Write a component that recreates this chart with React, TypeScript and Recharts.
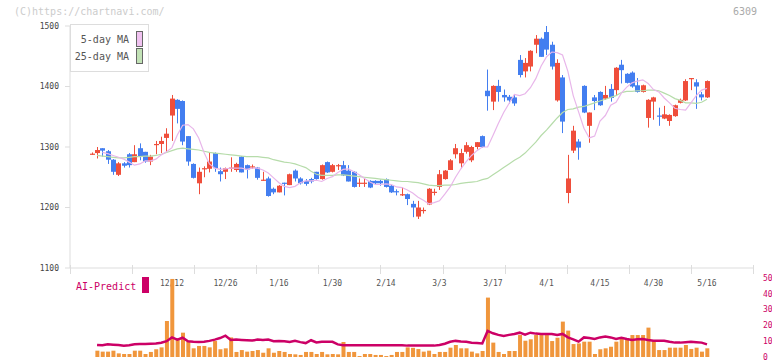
import React from "react";
import { ComposedChart, Bar, Line, XAxis, YAxis } from "recharts";

// trading days shown (index = x position)
const dates = [
  "11/21", "11/22", "11/25", "11/26", "11/27", "11/28", "11/29",
  "12/2", "12/3", "12/4", "12/5", "12/6", "12/9", "12/10", "12/11",
  "12/12", "12/13", "12/16", "12/17", "12/18", "12/19", "12/20", "12/23", "12/24", "12/25", "12/26", "12/27", "12/30",
  "1/6", "1/7", "1/8", "1/9", "1/10", "1/14", "1/15", "1/16", "1/17", "1/20", "1/21", "1/22", "1/23", "1/24", "1/27", "1/28", "1/29", "1/30", "1/31",
  "2/3", "2/4", "2/5", "2/6", "2/7", "2/10", "2/12", "2/13", "2/14", "2/17", "2/18", "2/19", "2/20", "2/21", "2/25", "2/26", "2/27", "2/28",
  "3/3", "3/4", "3/5", "3/6", "3/7", "3/10", "3/11", "3/12", "3/13", "3/14", "3/17", "3/18", "3/19", "3/21", "3/24", "3/25", "3/26", "3/27", "3/28", "3/31",
  "4/1", "4/2", "4/3", "4/4", "4/7", "4/8", "4/9", "4/10", "4/11", "4/14", "4/15", "4/16", "4/17", "4/18", "4/21", "4/22", "4/23", "4/24", "4/25", "4/28", "4/30",
  "5/1", "5/2", "5/7", "5/8", "5/9", "5/12", "5/13", "5/14", "5/15", "5/16",
];

const opens = [
  1288, 1290, 1298, 1293, 1279, 1254, 1273, 1288, 1275, 1298, 1292, 1276, 1304, 1305, 1315,
  1352, 1378, 1376, 1318, 1272, 1240, 1263, 1264, 1290, 1260, 1259, 1265, 1262, 1284, 1270,
  1267, 1266, 1245, 1248, 1231, 1225, 1241, 1237, 1261, 1248, 1244, 1247, 1259, 1247, 1275,
  1259, 1269, 1270, 1261, 1259, 1240, 1240, 1244, 1244, 1244, 1247, 1236, 1227, 1220, 1222,
  1206, 1185, 1195, 1205, 1225, 1234, 1247, 1262, 1288, 1273, 1292, 1278, 1300, 1318, 1393,
  1375, 1401, 1386, 1383, 1382, 1444, 1425, 1433, 1469, 1479, 1490, 1469, 1377, 1415, 1224,
  1294, 1309, 1401, 1335, 1382, 1391, 1380, 1396, 1394, 1436, 1421, 1423, 1402, 1391, 1348,
  1375, 1352, 1347, 1343, 1351, 1373, 1377, 1413, 1407, 1387, 1382,
];
const highs = [
  1291, 1300, 1298, 1295, 1280, 1275, 1275, 1290, 1303, 1306, 1292, 1287, 1310, 1317, 1331,
  1386, 1379, 1377, 1318, 1273, 1266, 1268, 1290, 1291, 1266, 1266, 1283, 1274, 1285, 1271,
  1271, 1267, 1259, 1251, 1233, 1237, 1241, 1256, 1263, 1250, 1247, 1249, 1259, 1271, 1276,
  1272, 1272, 1277, 1270, 1260, 1248, 1248, 1245, 1245, 1246, 1248, 1237, 1230, 1233, 1223,
  1211, 1211, 1200, 1232, 1231, 1262, 1262, 1280, 1305, 1297, 1308, 1302, 1308, 1319, 1428,
  1402, 1411, 1395, 1386, 1387, 1452, 1447, 1460, 1485, 1481, 1503, 1474, 1445, 1419, 1287,
  1335, 1313, 1402, 1357, 1386, 1392, 1401, 1404, 1432, 1444, 1422, 1425, 1414, 1403, 1379,
  1383, 1365, 1368, 1354, 1370, 1380, 1412, 1414, 1412, 1391, 1410,
];
const lows = [
  1287, 1281, 1284, 1272, 1254, 1252, 1266, 1266, 1275, 1278, 1274, 1270, 1288, 1290, 1292,
  1310, 1339, 1303, 1269, 1248, 1222, 1250, 1258, 1259, 1243, 1247, 1259, 1259, 1258, 1248,
  1264, 1246, 1244, 1218, 1222, 1225, 1220, 1237, 1243, 1238, 1236, 1240, 1246, 1246, 1257,
  1258, 1262, 1252, 1243, 1233, 1234, 1234, 1232, 1238, 1236, 1233, 1224, 1220, 1219, 1204,
  1184, 1181, 1190, 1204, 1220, 1229, 1246, 1262, 1281, 1265, 1289, 1275, 1296, 1299, 1360,
  1361, 1375, 1375, 1372, 1368, 1415, 1415, 1425, 1455, 1449, 1452, 1428, 1375, 1323, 1207,
  1290, 1279, 1356, 1307, 1361, 1368, 1378, 1375, 1386, 1405, 1405, 1398, 1390, 1390, 1332,
  1345, 1335, 1346, 1335, 1350, 1372, 1376, 1394, 1363, 1377, 1381,
];
const closes = [
  1289, 1295, 1294, 1279, 1259, 1273, 1269, 1270, 1288, 1284, 1276, 1284, 1305, 1310, 1322,
  1380, 1363, 1309, 1276, 1249, 1259, 1265, 1276, 1265, 1255, 1265, 1266, 1272, 1258, 1263,
  1268, 1249, 1246, 1219, 1225, 1236, 1239, 1255, 1248, 1240, 1239, 1243, 1247, 1270, 1258,
  1270, 1270, 1253, 1243, 1234, 1241, 1241, 1233, 1240, 1240, 1234, 1225, 1226, 1222, 1214,
  1200, 1200, 1196, 1231, 1226, 1255, 1261, 1278, 1298, 1290, 1303, 1300, 1308, 1300, 1384,
  1401, 1391, 1382, 1377, 1372, 1419, 1439, 1459, 1479, 1449, 1461, 1433, 1439, 1342, 1248,
  1327, 1299, 1357, 1357, 1376, 1369, 1386, 1381, 1431, 1427, 1406, 1400, 1391, 1402, 1378,
  1382, 1351, 1354, 1353, 1369, 1378, 1409, 1414, 1400, 1382, 1409,
];

const ma5 = [
  null, null, 1291, 1289, 1286, 1283, 1280, 1275, 1270, 1272, 1277, 1277, 1280, 1287, 1292,
  1299, 1320, 1336, 1337, 1330, 1315, 1291, 1272, 1265, 1263, 1264, 1265, 1265, 1265, 1263,
  1265, 1265, 1262, 1257, 1249, 1241, 1235, 1233, 1235, 1241, 1244, 1244, 1245, 1243, 1248,
  1251, 1258, 1263, 1264, 1259, 1254, 1248, 1242, 1238, 1238, 1239, 1238, 1234, 1233, 1229,
  1224, 1217, 1212, 1206, 1208, 1211, 1222, 1234, 1250, 1264, 1276, 1286, 1294, 1300, 1300,
  1319, 1339, 1357, 1372, 1387, 1385, 1388, 1398, 1413, 1434, 1449, 1457, 1456, 1452, 1425,
  1385, 1358, 1331, 1315, 1318, 1343, 1352, 1369, 1374, 1389, 1399, 1406, 1409, 1411, 1405,
  1395, 1391, 1381, 1373, 1364, 1362, 1361, 1373, 1385, 1394, 1397,
];
const ma25 = [
  null, 1286, 1285, 1284, 1283, 1282, 1282, 1283, 1284, 1284, 1285, 1285, 1286, 1288, 1291,
  1294, 1297, 1298, 1297, 1296, 1295, 1293, 1291, 1290, 1289, 1288, 1287, 1286, 1285, 1284,
  1284, 1284, 1283, 1282, 1279, 1277, 1275, 1274, 1272, 1269, 1266, 1260, 1255, 1253, 1253,
  1253, 1254, 1254, 1253, 1252, 1251, 1250, 1249, 1248, 1247, 1246, 1245, 1244, 1243, 1243,
  1242, 1241, 1239, 1237, 1236, 1236, 1237, 1237, 1238, 1240, 1241, 1242, 1243, 1246, 1248,
  1254, 1260, 1266, 1272, 1278, 1283, 1290, 1299, 1308, 1319, 1328, 1338, 1348, 1357, 1362,
  1363, 1366, 1367, 1370, 1373, 1376, 1379, 1382, 1385, 1390, 1392, 1392, 1393, 1393, 1394,
  1394, 1393, 1389, 1385, 1380, 1377, 1373, 1373, 1372, 1374, 1379,
];

const volume = [
  null, 4.0, 3.4, 3.4, 4.0, 2.3, 1.9, 1.9, 4.0, 4.0, 1.9, 3.2, 4.9, 6.1, 22.8,
  49.4, 11.8, 15.4, 9.7, 5.5, 7.0, 7.0, 6.1, 10.1, 4.9, 5.5, 12.4, 3.2, 4.4, 3.4,
  3.8, 4.4, 2.7, 5.5, 2.7, 3.8, 3.2, 1.9, 1.7, 1.3, 3.2, 3.2, 1.9, 3.2, 1.7,
  1.9, 1.7, 9.5, 3.2, 3.2, 0.6, 1.9, 1.9, 1.3, 1.3, 0.6, 1.3, 3.2, 3.2, 6.1,
  5.8, 5.0, 3.4, 4.0, 1.9, 3.2, 3.2, 5.9, 7.6, 5.5, 5.5, 3.4, 2.3, 3.8, 37.6,
  9.1, 3.2, 1.9, 3.8, 3.8, 13.9, 10.3, 11.2, 13.9, 13.9, 13.9, 10.1, 12.2, 22.4, 16.7,
  8.2, 8.6, 9.7, 9.7, 1.9, 4.9, 5.5, 6.5, 9.7, 11.4, 10.8, 13.9, 13.9, 13.9, 18.6,
  10.1, 4.4, 4.4, 5.9, 5.9, 5.9, 7.6, 5.1, 5.9, 3.4, 5.5,
];
const aiPredict = [
  null, 7.6, 7.4, 8.0, 7.8, 7.6, 7.2, 7.4, 8.0, 8.2, 8.2, 8.4, 8.6, 9.0, 10.0,
  12.4, 11.0, 12.2, 10.0, 9.6, 9.5, 9.6, 10.2, 11.0, 12.0, 13.5, 10.8, 11.0, 10.8, 10.6,
  10.4, 11.0, 10.8, 11.0, 10.0, 10.2, 10.0, 9.5, 10.2, 9.4, 8.8, 10.6, 9.2, 9.6, 9.7,
  9.6, 8.0, 7.4, 7.4, 7.4, 7.4, 7.4, 7.4, 7.4, 7.4, 7.4, 7.4, 7.4, 7.4, 7.2,
  7.2, 7.2, 7.2, 7.2, 7.2, 7.6, 8.4, 9.6, 10.2, 9.8, 9.6, 9.0, 8.8, 8.6, 16.5,
  15.0, 14.0, 13.3, 14.0, 14.6, 15.4, 14.2, 15.4, 14.8, 14.6, 14.6, 14.6, 13.9, 14.6, 12.4,
  11.2, 9.7, 12.4, 12.0, 11.4, 12.4, 12.9, 12.4, 11.4, 12.2, 11.4, 10.8, 11.2, 11.4, 10.8,
  10.3, 10.3, 10.3, 9.6, 9.1, 9.1, 9.4, 9.7, 9.4, 9.1, 8.0,
];

const labelIdx = [15, 25, 35, 45, 55, 65, 75, 85, 95, 105, 115];
const priceTicks = [1100, 1200, 1300, 1400, 1500];
const volTicks = [0, 10, 20, 30, 40, 50];

const W = 772;
const H = 361;
const X_MIN = -4.056;
const X_MAX = 123.6;
const gridTicks = Array.from({ length: 12 }, (_, k) => X_MIN + ((X_MAX - X_MIN) * k) / 11);

const RED = "#ef4e3b";
const BLUE = "#437ef0";
const MONO = "'DejaVu Sans Mono', monospace";

const rows = dates.map((d, i) => ({
  i,
  d,
  o: opens[i],
  h: highs[i],
  l: lows[i],
  c: closes[i],
  ma5: ma5[i],
  ma25: ma25[i],
  vol: volume[i],
  ai: aiPredict[i],
}));

const Candle = (props: any) => {
  const { x, y, width, height, payload } = props;
  if (x == null || y == null) return null;
  const { o, h, l, c } = payload;
  const span = h - l || 1;
  const py = (v: number) => y + ((h - v) / span) * height;
  const color = c >= o ? RED : BLUE;
  const cx = Math.round(x + width / 2);
  const top = py(Math.max(o, c));
  const bot = py(Math.min(o, c));
  return (
    <g>
      <line x1={cx + 0.5} x2={cx + 0.5} y1={y} y2={y + height} stroke={color} strokeWidth={1} />
      <rect x={cx - 2} y={top} width={5} height={Math.max(1.2, bot - top)} fill={color} />
    </g>
  );
};

const XTick = (props: any) => {
  const { x, y, payload } = props;
  const v = payload.value;
  if (labelIdx.includes(v)) {
    return (
      <text x={x} y={y + 18} textAnchor="middle" fill="#555" fontSize={8} fontFamily={MONO}>
        {dates[v]}
      </text>
    );
  }
  const px = Math.round(x) + 0.5;
  return <line x1={px} x2={px} y1={y - 3} y2={y + 6} stroke="#ddd" strokeWidth={1} />;
};

export default function App() {
  return (
    <div style={{ position: "absolute", left: 0, top: 0, width: W, height: H, background: "#fff" }}>
      <div style={{ position: "absolute", left: 0, top: 0 }}>
        <ComposedChart width={W} height={H} data={rows} margin={{ top: 26, right: 19, bottom: 63, left: 0 }}>
          <XAxis
            dataKey="i"
            type="number"
            domain={[X_MIN, X_MAX]}
            allowDataOverflow
            ticks={[...gridTicks, ...labelIdx]}
            interval={0}
            tickSize={0}
            tickMargin={0}
            height={30}
            axisLine={{ stroke: "#ddd" }}
            tickLine={false}
            tick={<XTick />}
          />
          <YAxis
            domain={[1100, 1500]}
            ticks={priceTicks}
            interval={0}
            allowDataOverflow
            width={70}
            tickSize={5}
            tickMargin={6}
            axisLine={{ stroke: "#ddd" }}
            tickLine={{ stroke: "#ddd" }}
            tick={{ fontSize: 8, fill: "#444", fontFamily: MONO }}
          />
          <Line dataKey="ma25" stroke="#b6dcaa" strokeWidth={1.2} dot={false} isAnimationActive={false} />
          <Line dataKey="ma5" stroke="#e8b6ea" strokeWidth={1.2} dot={false} isAnimationActive={false} />
          <Bar dataKey={(r: any) => [r.l, r.h]} barSize={5} shape={<Candle />} isAnimationActive={false} />
        </ComposedChart>
      </div>
      <div style={{ position: "absolute", left: 0, top: 0 }}>
        <ComposedChart width={W} height={H} data={rows} margin={{ top: 278, right: 0, bottom: 4, left: 70 }}>
          <XAxis dataKey="i" type="number" domain={[X_MIN, X_MAX]} allowDataOverflow hide />
          <YAxis
            orientation="right"
            domain={[0, 50]}
            ticks={volTicks}
            interval={0}
            width={19}
            axisLine={false}
            tickLine={false}
            tickMargin={4}
            tick={{ fontSize: 8, fill: "#cc0066", fontFamily: MONO, textAnchor: "start" }}
          />
          <Bar dataKey="vol" barSize={4} fill="#f0963c" isAnimationActive={false} />
          <Line dataKey="ai" stroke="#cc0066" strokeWidth={2.5} dot={false} isAnimationActive={false} />
        </ComposedChart>
      </div>
      <svg width={W} height={H} style={{ position: "absolute", left: 0, top: 0, pointerEvents: "none" }}>
        <text x={14} y={15} fill="#ccc" fontSize={10} fontFamily={MONO}>(C)https://chartnavi.com/</text>
        <text x={757} y={15} fill="#aaa" fontSize={10} fontFamily={MONO} textAnchor="end">6309</text>
        <rect x={70.5} y={24.5} width={78} height={47} fill="#fff" stroke="#ddd" />
        <text x={129} y={43} fill="#555" fontSize={10} fontFamily={MONO} textAnchor="end">5-day MA</text>
        <rect x={136.5} y={31.5} width={6} height={15} fill="#f0c2f0" stroke="#666" />
        <text x={129} y={60} fill="#555" fontSize={10} fontFamily={MONO} textAnchor="end">25-day MA</text>
        <rect x={136.5} y={48.5} width={6} height={15} fill="#c2e2b6" stroke="#666" />
        <text x={76} y={290} fill="#cc0066" fontSize={10} fontFamily={MONO}>AI-Predict</text>
        <rect x={142} y={277} width={7} height={16} fill="#cc0066" />
      </svg>
    </div>
  );
}
